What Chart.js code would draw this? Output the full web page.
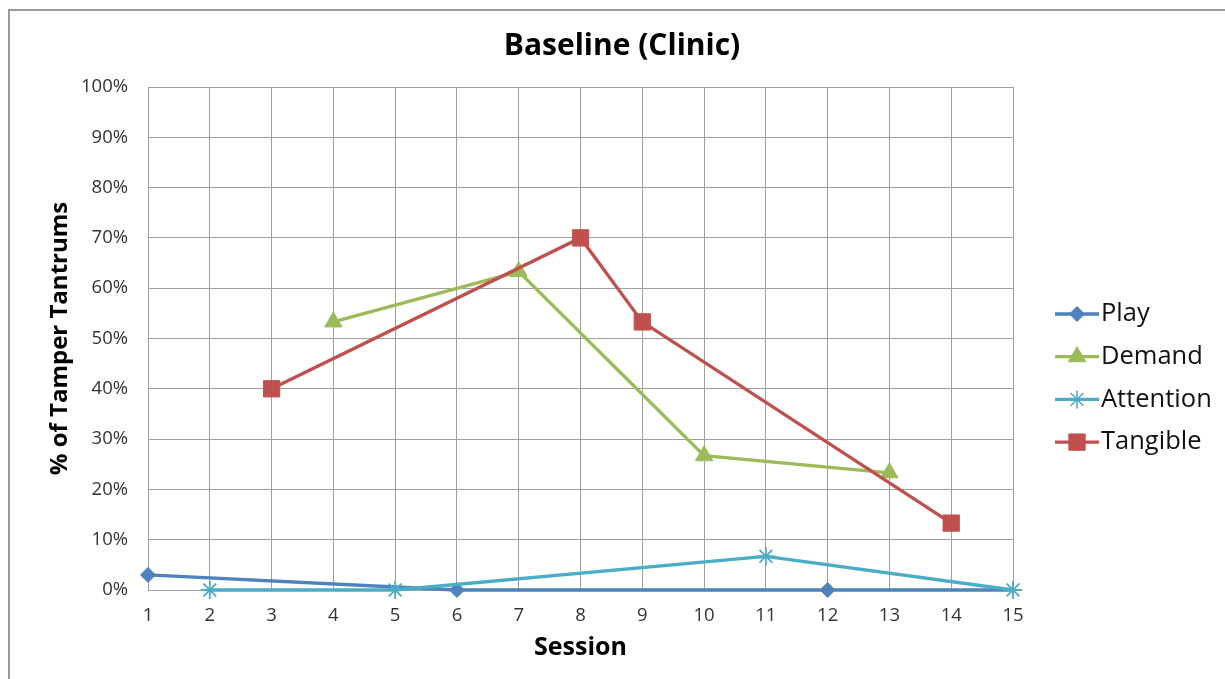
<!DOCTYPE html>
<html>
<head>
<meta charset="utf-8">
<title>Baseline (Clinic)</title>
<script src="https://cdn.jsdelivr.net/npm/chart.js@4/dist/chart.umd.min.js"></script>
<style>
  html, body { margin: 0; padding: 0; background: #fff; }
  #wrap { position: relative; width: 1225px; height: 679px; overflow: hidden; }
  #frame { position: absolute; left: 8px; top: 9px; width: 1400px; height: 900px;
           border-left: 2px solid #9a9a9a; border-top: 2px solid #9a9a9a; }
  #chart { position: absolute; left: 0; top: 0; }
</style>
</head>
<body>
<div id="wrap">
  <div id="frame"></div>
  <canvas id="chart" width="1225" height="679"></canvas>
</div>
<script>
// Baseline (Clinic) - % of tamper tantrums per session, one line per condition

var seriesNames = ['Play', 'Demand', 'Attention', 'Tangible'];
var seriesColors = ['#4f81bd', '#9bbb59', '#4bacc6', '#c0504d'];
var seriesMarkers = ['rectRot', 'triangle', 'star', 'rect'];
var seriesRadius = [7.5, 10, 9, 11.5];

var playSessions = [1, 6, 12, 15];
var playValues = [3, 0, 0, 0];
var demandSessions = [4, 7, 10, 13];
var demandValues = [53.3, 63.3, 26.7, 23.3];
var attentionSessions = [2, 5, 11, 15];
var attentionValues = [0, 0, 6.7, 0];
var tangibleSessions = [3, 8, 9, 14];
var tangibleValues = [40, 70, 53.3, 13.3];

var sessionTicks = [1, 15];   // first / last session on the x axis
var percentTicks = [0, 100];  // y axis range

var FONT = '"Open Sans", "DejaVu Sans", sans-serif';

function toPoints(xs, ys) {
  return xs.map(function (x, i) { return { x: x, y: ys[i] }; });
}

var allSessions = [playSessions, demandSessions, attentionSessions, tangibleSessions];
var allValues = [playValues, demandValues, attentionValues, tangibleValues];

var datasets = seriesNames.map(function (name, i) {
  var c = seriesColors[i];
  var r = seriesRadius[i];
  return {
    label: name,
    data: toPoints(allSessions[i], allValues[i]),
    borderColor: c,
    backgroundColor: c,
    borderWidth: 3.3,
    pointStyle: seriesMarkers[i],
    // the last Play point (session 15) has no marker in the original
    pointRadius: name === 'Play' ? function (ctx) { return ctx.dataIndex === playSessions.length - 1 ? 0 : r; } : r,
    pointHoverRadius: r,
    pointBorderWidth: seriesMarkers[i] === 'star' ? 1.8 : 1,
    pointBackgroundColor: c,
    pointBorderColor: c,
    tension: 0,
    fill: false,
    clip: false,
    order: seriesNames.length - i // later series drawn on top, as in the original
  };
});

// Custom legend: line with marker through it, then label
var lineLegend = {
  id: 'lineLegend',
  afterDraw: function (chart) {
    var ctx = chart.ctx;
    var area = chart.chartArea;
    var x0 = area.right + 42;
    var y0 = area.top + 227;
    ctx.save();
    seriesNames.forEach(function (name, i) {
      var y = y0 + i * 42.7;
      ctx.strokeStyle = seriesColors[i];
      ctx.fillStyle = seriesColors[i];
      ctx.lineWidth = 3.3;
      ctx.beginPath();
      ctx.moveTo(x0, y);
      ctx.lineTo(x0 + 44, y);
      ctx.stroke();
      ctx.lineWidth = seriesMarkers[i] === 'star' ? 1.5 : 1;
      Chart.helpers.drawPoint(ctx, {
        pointStyle: seriesMarkers[i],
        radius: seriesRadius[i],
        rotation: 0,
        borderWidth: ctx.lineWidth
      }, x0 + 22, y);
      ctx.fillStyle = '#111';
      ctx.font = '25.5px ' + FONT;
      ctx.textAlign = 'left';
      ctx.textBaseline = 'middle';
      ctx.fillText(name, x0 + 46, y);
    });
    ctx.restore();
  }
};

var gridColor = '#9f9f9f';

new Chart(document.getElementById('chart').getContext('2d'), {
  type: 'line',
  data: { datasets: datasets },
  options: {
    responsive: false,
    animation: false,
    events: [],
    layout: { padding: { left: 19, right: 0, top: 0, bottom: 0 } },
    plugins: {
      legend: { display: false },
      tooltip: { enabled: false },
      title: {
        display: true,
        text: 'Baseline (Clinic)',
        color: '#000',
        font: { family: FONT, size: 30, weight: 'bold' },
        padding: { top: 28, bottom: 23 }
      }
    },
    scales: {
      x: {
        type: 'linear',
        min: sessionTicks[0],
        max: sessionTicks[1],
        afterFit: function (s) { s.height = 89; },
        ticks: {
          stepSize: 1,
          color: '#333',
          padding: 15,
          font: { family: FONT, size: 18.5 }
        },
        grid: { color: gridColor, drawTicks: false },
        border: { color: gridColor },
        title: {
          display: true,
          text: 'Session',
          color: '#000',
          font: { family: FONT, size: 25, weight: 'bold' },
          padding: { top: 0, bottom: 16 }
        }
      },
      y: {
        min: percentTicks[0],
        max: percentTicks[1],
        afterFit: function (s) { s.width = 129; },
        ticks: {
          stepSize: 10,
          color: '#333',
          padding: 20,
          font: { family: FONT, size: 18.5 },
          callback: function (v) { return v + '%'; }
        },
        grid: { color: gridColor, drawTicks: false },
        border: { color: gridColor },
        title: {
          display: true,
          text: '% of Tamper Tantrums',
          color: '#000',
          font: { family: FONT, size: 24, weight: 'bold' },
          padding: { top: 27, bottom: 0 }
        }
      },
      legendSpace: {
        type: 'linear',
        position: 'right',
        display: true,
        afterFit: function (s) { s.width = 212; },
        ticks: { display: false },
        grid: { display: false },
        border: { display: false }
      }
    }
  },
  plugins: [lineLegend]
});
</script>
</body>
</html>
